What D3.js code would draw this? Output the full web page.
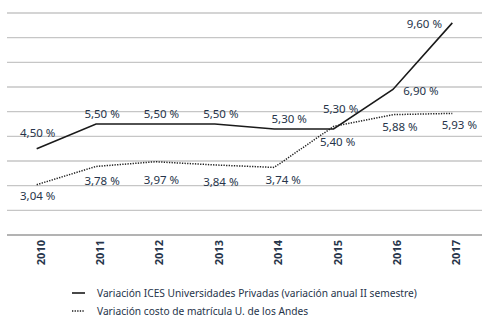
<!DOCTYPE html>
<html><head><meta charset="utf-8">
<script src="https://d3js.org/d3.v7.min.js"></script>
<style>body{margin:0;background:#fff}svg{display:block}</style>
</head><body>
<svg id="c" width="499" height="324"></svg>
<script>
const years = ["2010","2011","2012","2013","2014","2015","2016","2017"];
const ices = [4.50, 5.50, 5.50, 5.50, 5.30, 5.30, 6.90, 9.60];
const andes = [3.04, 3.78, 3.97, 3.84, 3.74, 5.40, 5.88, 5.93];
const iceLabels = ["4,50 %","5,50 %","5,50 %","5,50 %","5,30 %","5,30 %","6,90 %","9,60 %"];
const andesLabels = ["3,04 %","3,78 %","3,97 %","3,84 %","3,74 %","5,40 %","5,88 %","5,93 %"];
const gridTicks = [1,2,3,4,5,6,7,8,9,10];
const legendNames = ["Variación ICES Universidades Privadas (variación anual II semestre)","Variación costo de matrícula U. de los Andes"];

// label offsets [dx, dy] relative to point
const iceOff = [[1,-12],[6,-6],[6,-6],[6,-6],[15,-6],[7,-16],[28,6],[-28,5]];
const andesOff = [[1,15],[6,19],[6,22],[6,21],[9,17],[4,20],[7,16],[7,16]];

const svg = d3.select("#c");
const font = "'Noto Sans', sans-serif";
const txt = "#26344a";
const x = d3.scalePoint().domain(years).range([7,482]).padding(0.5);
const y = d3.scaleLinear().domain([1,10]).range([235,13]);

svg.append("g").selectAll("line").data(gridTicks).join("line")
  .attr("x1",7).attr("x2",482)
  .attr("y1",d=>y(d)).attr("y2",d=>y(d))
  .attr("stroke",d=>d===1?"#9a9a9a":"#c6c6c6").attr("stroke-width",1.3);

const line = d3.line().x((d,i)=>x(years[i])).y(d=>y(d));
svg.append("path").datum(andes).attr("d",line).attr("fill","none")
  .attr("stroke","#222").attr("stroke-width",1.5).attr("stroke-dasharray","1.3,1.3");
svg.append("path").datum(ices).attr("d",line).attr("fill","none")
  .attr("stroke","#1a1a1a").attr("stroke-width",1.6);

function labels(vals, labs, off){
  svg.append("g").selectAll("text").data(vals).join("text")
    .attr("x",(d,i)=>x(years[i])+off[i][0])
    .attr("y",(d,i)=>y(d)+off[i][1])
    .attr("text-anchor","middle")
    .attr("font-family",font).attr("font-size",11.5).attr("fill",txt)
    .text((d,i)=>labs[i]);
}
labels(ices, iceLabels, iceOff);
labels(andes, andesLabels, andesOff);

svg.append("g").selectAll("text").data(years).join("text")
  .attr("transform",d=>`translate(${x(d)+8},240) rotate(-90)`)
  .attr("text-anchor","end")
  .attr("font-family",font).attr("font-size",11).attr("font-weight","bold").attr("fill",txt)
  .text(d=>d);

const lg = svg.append("g");
legendNames.forEach((n,i)=>{
  const yy = 293 + i*18;
  lg.append("line").attr("x1",72).attr("x2",85).attr("y1",yy).attr("y2",yy)
    .attr("stroke","#1a1a1a").attr("stroke-width",i===0?1.6:1.5)
    .attr("stroke-dasharray",i===0?null:"1.3,1.3");
  lg.append("text").attr("x",97).attr("y",yy+4)
    .attr("font-family",font).attr("font-size",10.2).attr("fill",txt).text(n);
});
</script>
</body></html>
